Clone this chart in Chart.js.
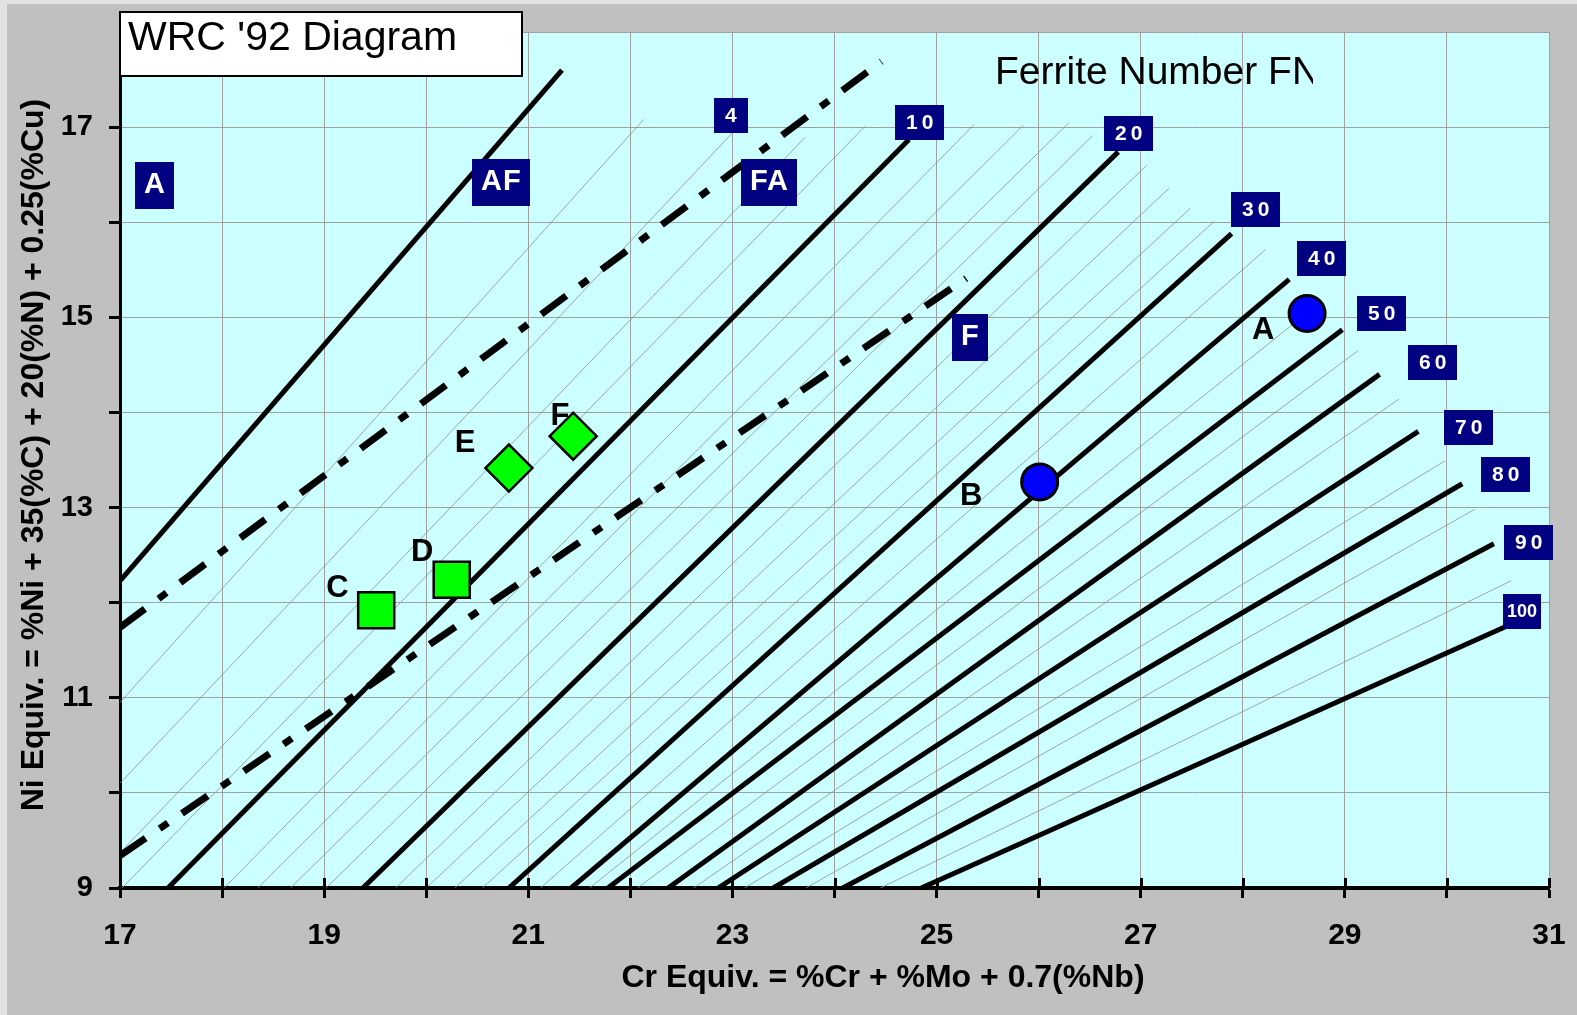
<!DOCTYPE html>
<html>
<head>
<meta charset="utf-8">
<title>WRC '92 Diagram</title>
<script src="https://cdn.jsdelivr.net/npm/chart.js@4.4.1/dist/chart.umd.min.js"></script>
<style>
  html, body { margin: 0; padding: 0; background: #c0c0c0; overflow: hidden; }
  canvas { display: block; }
</style>
</head>
<body>
<canvas id="chart" width="1577" height="1015"></canvas>
<script>
'use strict';

// tick labels
let xTickLabels = [17, 19, 21, 23, 25, 27, 29, 31];
let yTickLabels = [9, 11, 13, 15, 17];

// main (bold) iso-ferrite lines, start and end points
let fnMain = [0, 10, 20, 30, 40, 50, 60, 70, 80, 90, 100];
let fnMainX1 = [17, 17.47, 19.38, 20.81, 21.42, 21.78, 22.37, 22.86, 23.40, 24.08, 24.85];
let fnMainY1 = [12.23, 9, 9, 9, 9, 9, 9, 9, 9, 9, 9];
let fnMainX2 = [21.33, 24.73, 26.78, 27.89, 28.455, 28.975, 29.34, 29.72, 30.15, 30.46, 30.60];
let fnMainY2 = [17.60, 16.87, 16.74, 15.88, 15.40, 14.87, 14.40, 13.80, 13.25, 12.62, 11.76];

// thin iso-ferrite lines in between
let fnThin = [2, 4, 6, 8, 12, 14, 16, 18, 22, 24, 26, 28, 35, 45, 55, 65, 75, 85, 95];
let fnThinX1 = [17, 17, 17, 17.02, 18.02, 18.35, 18.67, 19.02, 19.70, 20.00, 20.28, 20.55, 21.12, 21.60, 22.07, 22.62, 23.12, 23.72, 24.45];
let fnThinY1 = [10.95, 10.10, 9.37, 9, 9, 9, 9, 9, 9, 9, 9, 9, 9, 9, 9, 9, 9, 9, 9];
let fnThinX2 = [22.13, 23.00, 23.71, 24.30, 25.37, 25.85, 26.30, 26.53, 27.06, 27.28, 27.49, 27.72, 28.22, 28.75, 29.13, 29.53, 29.98, 30.27, 30.63];
let fnThinY2 = [17.08, 16.94, 16.89, 17.01, 17.03, 17.02, 17.05, 16.91, 16.60, 16.36, 16.15, 16.01, 15.71, 15.15, 14.65, 14.14, 13.49, 12.98, 12.23];

// dash-dot phase boundaries (AF/FA and FA/F)
let boundaryX1 = [17, 17];
let boundaryY1 = [11.74, 9.34];
let boundaryX2 = [24.46, 25.29];
let boundaryY2 = [17.69, 15.41];

// weld samples
let sampleNames = ['A', 'B', 'C', 'D', 'E', 'F'];
let sampleX = [28.63, 26.01, 19.51, 20.25, 20.81, 21.44];
let sampleY = [15.04, 13.27, 11.92, 12.24, 13.415, 13.75];
let sampleLabelX = [28.20, 25.34, 19.13, 19.96, 20.38, 21.31];
let sampleLabelY = [14.88, 13.14, 12.17, 12.55, 13.69, 13.98];

// phase region labels
let regionNames = ['A', 'AF', 'FA', 'F'];
let regionX = [17.34, 20.73, 23.36, 25.33];
let regionY = [16.39, 16.42, 16.42, 14.79];

// ferrite number labels
let fnLabelText = ['4', '10', '20', '30', '40', '50', '60', '70', '80', '90', '100'];
let fnLabelX = [22.99, 24.83, 26.88, 28.12, 28.77, 29.36, 29.86, 30.21, 30.57, 30.80, 30.74];
let fnLabelY = [17.12, 17.05, 16.93, 16.13, 15.62, 15.04, 14.53, 13.84, 13.35, 12.63, 11.91];

const FONT = '"Liberation Sans", Arial, Helvetica, sans-serif';

let canvasElem = document.getElementById('chart');

function pts(idx) {
  return idx.map(i => ({ x: sampleX[i], y: sampleY[i] }));
}

let datasets = [];

// markers first so they end up on top
datasets.push({
  label: 'A, B', data: pts([0, 1]), showLine: false,
  pointStyle: 'circle', pointRadius: 18, backgroundColor: '#0000ff', borderColor: '#000', borderWidth: 3
});
datasets.push({
  label: 'C, D', data: pts([2, 3]), showLine: false,
  pointStyle: 'rect', pointRadius: 25.5, backgroundColor: '#00ff00', borderColor: '#000', borderWidth: 2.5
});
datasets.push({
  label: 'E, F', data: pts([4, 5]), showLine: false,
  pointStyle: 'rectRot', pointRadius: 23.5, backgroundColor: '#00ff00', borderColor: '#000', borderWidth: 2.5
});

for (let i = 0; i < fnMain.length; i++) {
  datasets.push({
    label: 'FN ' + fnMain[i],
    data: [{ x: fnMainX1[i], y: fnMainY1[i] }, { x: fnMainX2[i], y: fnMainY2[i] }],
    showLine: true, pointRadius: 0, borderColor: '#000', borderWidth: 5
  });
}

for (let i = 0; i < boundaryX1.length; i++) {
  datasets.push({
    label: 'boundary ' + i,
    data: [{ x: boundaryX1[i], y: boundaryY1[i] }, { x: boundaryX2[i], y: boundaryY2[i] }],
    showLine: true, pointRadius: 0, borderColor: '#000', borderWidth: 7,
    borderDash: [31, 17, 10, 17]
  });
}

for (let i = 0; i < fnThin.length; i++) {
  datasets.push({
    label: 'FN ' + fnThin[i],
    data: [{ x: fnThinX1[i], y: fnThinY1[i] }, { x: fnThinX2[i], y: fnThinY2[i] }],
    showLine: true, pointRadius: 0, borderColor: '#8f8f8f', borderWidth: 0.8
  });
}

let fnStyle = { size: 21, spacing: 4, padX: 11, h: 35, base: 24 };
let fnSmallStyle = { size: 18, spacing: 0, padX: 4, h: 35, base: 23 };
let regionStyle = { size: 29, spacing: 1, padX: 9, h: 47, base: 31 };

function boxLabel(ctx, cx, cy, text, st) {
  ctx.font = 'bold ' + st.size + 'px ' + FONT;
  ctx.letterSpacing = st.spacing + 'px';
  let tw = ctx.measureText(text).width - st.spacing;
  let w = Math.round(tw + st.padX * 2);
  let left = Math.round(cx - w / 2);
  let top = Math.round(cy - st.h / 2);
  ctx.fillStyle = '#000080';
  ctx.fillRect(left, top, w, st.h);
  ctx.fillStyle = '#fff';
  ctx.textAlign = 'left';
  ctx.textBaseline = 'alphabetic';
  ctx.fillText(text, left + st.padX, top + st.base);
  ctx.letterSpacing = '0px';
}

let decoPlugin = {
  id: 'deco',
  beforeDraw(chart) {
    let ctx = chart.ctx, a = chart.chartArea;
    ctx.save();
    ctx.fillStyle = '#c0c0c0';
    ctx.fillRect(0, 0, chart.width, chart.height);
    ctx.fillStyle = '#e2e2e2';
    ctx.fillRect(0, 0, chart.width, 4);
    ctx.fillRect(0, 0, 7, chart.height);
    ctx.fillStyle = '#ccffff';
    ctx.fillRect(a.left, a.top, a.right - a.left, a.bottom - a.top);
    ctx.restore();
  },
  afterDraw(chart) {
    let ctx = chart.ctx, a = chart.chartArea;
    let xs = chart.scales.x, ys = chart.scales.y;
    ctx.save();

    // x ticks also cross into the plot
    ctx.strokeStyle = '#000';
    ctx.lineWidth = 3;
    for (let v = xs.min; v <= xs.max; v++) {
      let px = Math.round(xs.getPixelForValue(v)) + 0.5;
      ctx.beginPath();
      ctx.moveTo(px, a.bottom);
      ctx.lineTo(px, a.bottom - 10);
      ctx.stroke();
    }

    // region and FN labels
    for (let i = 0; i < regionNames.length; i++) {
      boxLabel(ctx, xs.getPixelForValue(regionX[i]), ys.getPixelForValue(regionY[i]), regionNames[i], regionStyle);
    }
    for (let i = 0; i < fnLabelText.length; i++) {
      let st = fnLabelText[i].length > 2 ? fnSmallStyle : fnStyle;
      boxLabel(ctx, xs.getPixelForValue(fnLabelX[i]), ys.getPixelForValue(fnLabelY[i]), fnLabelText[i], st);
    }

    // sample letters
    ctx.fillStyle = '#000';
    ctx.font = 'bold 31px ' + FONT;
    ctx.textAlign = 'center';
    ctx.textBaseline = 'middle';
    for (let i = 0; i < sampleNames.length; i++) {
      ctx.fillText(sampleNames[i], xs.getPixelForValue(sampleLabelX[i]), ys.getPixelForValue(sampleLabelY[i]) + 2);
    }

    // "Ferrite Number FN" is cut off by its text box
    ctx.save();
    ctx.beginPath();
    ctx.rect(a.left, a.top, 1313 - a.left, 120);
    ctx.clip();
    ctx.font = '39px ' + FONT;
    ctx.textAlign = 'left';
    ctx.textBaseline = 'alphabetic';
    ctx.fillText('Ferrite Number FN', 995, 84);
    ctx.restore();

    // title box
    ctx.fillStyle = '#fff';
    ctx.fillRect(120, 12, 402, 64);
    ctx.strokeStyle = '#000';
    ctx.lineWidth = 2;
    ctx.strokeRect(120, 12, 402, 64);
    ctx.fillStyle = '#000';
    ctx.font = '41px ' + FONT;
    ctx.textAlign = 'left';
    ctx.textBaseline = 'alphabetic';
    ctx.fillText("WRC '92 Diagram", 128, 50);

    // axis titles
    ctx.font = 'bold 32px ' + FONT;
    ctx.textAlign = 'center';
    ctx.textBaseline = 'middle';
    ctx.fillText('Cr Equiv. = %Cr + %Mo + 0.7(%Nb)', 883, 978);
    ctx.translate(34, 455);
    ctx.rotate(-Math.PI / 2);
    ctx.fillText('Ni Equiv. = %Ni + 35(%C) + 20(%N) + 0.25(%Cu)', 0, 0);

    ctx.restore();
  }
};

let config = {
  type: 'scatter',
  data: { datasets: datasets },
  options: {
    responsive: false,
    animation: false,
    devicePixelRatio: 1,
    events: [],
    layout: { padding: { top: 32, right: 28, left: 0, bottom: 0 } },
    plugins: { legend: { display: false }, tooltip: { enabled: false } },
    scales: {
      x: {
        type: 'linear', min: 17, max: 31,
        afterFit(scale) {
          scale.height = 127;
          scale.paddingLeft = 0;
          scale.paddingRight = 0;
        },
        ticks: {
          stepSize: 1, autoSkip: false, maxRotation: 0, padding: 20,
          color: '#000', font: { family: FONT, size: 30, weight: 'bold' },
          callback: v => xTickLabels.includes(v) ? String(v) : ''
        },
        grid: { color: '#a0a0a0', lineWidth: 1, tickWidth: 3, tickLength: 10, tickColor: '#000' },
        border: { color: '#000', width: 4 }
      },
      y: {
        type: 'linear', min: 9, max: 18,
        afterFit(scale) {
          scale.width = 120;
          scale.paddingTop = 0;
          scale.paddingBottom = 0;
        },
        ticks: {
          stepSize: 1, autoSkip: false, padding: 16,
          color: '#000', font: { family: FONT, size: 29, weight: 'bold' },
          callback: v => yTickLabels.includes(v) ? String(v) : ''
        },
        grid: {
          color: '#a0a0a0', lineWidth: 1, tickWidth: 3, tickLength: 11,
          tickColor: c => (c.tick && c.tick.value === 18) ? 'rgba(0,0,0,0)' : '#000'
        },
        border: { color: '#000', width: 3 }
      }
    }
  },
  plugins: [decoPlugin]
};

new Chart(canvasElem, config);
</script>
</body>
</html>
